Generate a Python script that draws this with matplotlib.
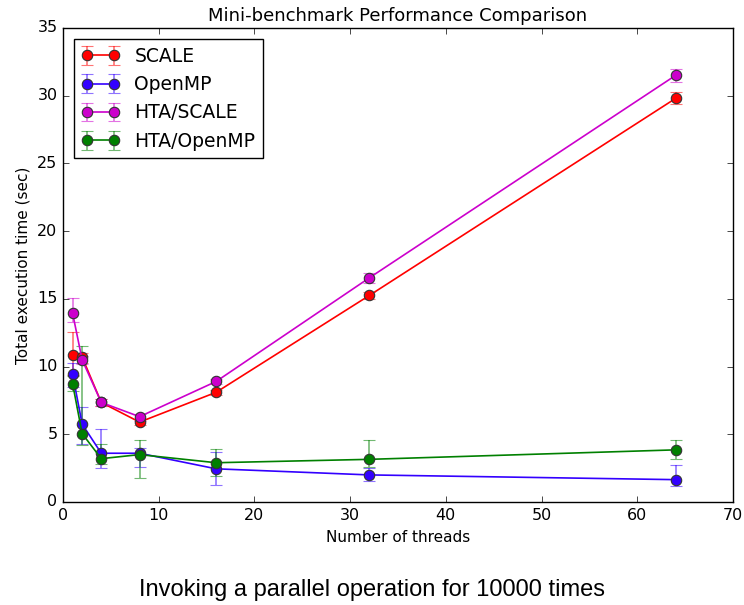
import matplotlib

matplotlib.use("Agg")
import matplotlib.pyplot as plt
import numpy as np
from matplotlib.colors import to_rgba

# thread counts shared by all series
threads = [1, 2, 4, 8, 16, 32, 64]

series_names = ["SCALE", "OpenMP", "HTA/SCALE", "HTA/OpenMP"]

scale_mean = [10.85, 10.7, 7.35, 5.9, 8.1, 15.25, 29.8]
scale_lo = [9.4, 10.3, 7.1, 5.7, 7.9, 15.0, 29.4]
scale_hi = [12.55, 11.0, 7.6, 6.1, 8.3, 15.5, 30.3]

openmp_mean = [9.45, 5.75, 3.6, 3.6, 2.45, 2.0, 1.65]
openmp_lo = [8.5, 4.3, 2.5, 2.6, 1.25, 1.55, 1.2]
openmp_hi = [10.3, 7.0, 5.4, 4.0, 3.7, 2.5, 2.7]

hta_scale_mean = [13.95, 10.5, 7.35, 6.3, 8.9, 16.55, 31.5]
hta_scale_lo = [13.3, 10.2, 7.1, 6.0, 8.7, 16.2, 31.0]
hta_scale_hi = [15.1, 10.8, 7.6, 6.5, 9.1, 16.9, 32.0]

hta_openmp_mean = [8.75, 5.05, 3.2, 3.5, 2.9, 3.15, 3.85]
hta_openmp_lo = [8.2, 4.2, 2.8, 1.8, 1.9, 2.6, 3.15]
hta_openmp_hi = [9.3, 11.5, 4.3, 4.6, 3.9, 4.6, 4.6]

colors = ["#ff0000", "#3300ff", "#cc00cc", "#008000"]

plt.style.use("classic")
plt.rcParams["font.family"] = ["DejaVu Sans"]

fig = plt.figure(figsize=(7.44, 6.05), dpi=100, facecolor="white")
ax = fig.add_axes([63 / 744, 103 / 605, 670 / 744, 474 / 605])

data = [
    (scale_mean, scale_lo, scale_hi),
    (openmp_mean, openmp_lo, openmp_hi),
    (hta_scale_mean, hta_scale_lo, hta_scale_hi),
    (hta_openmp_mean, hta_openmp_lo, hta_openmp_hi),
]
for name, color, (mean, lo, hi) in zip(series_names, colors, data):
    mean = np.array(mean)
    yerr = [mean - np.array(lo), np.array(hi) - mean]
    ax.errorbar(threads, mean, yerr=yerr, color=color, marker="o",
                markersize=7.5, markeredgecolor="#333333", markeredgewidth=0.8,
                ecolor=to_rgba(color, 0.55), elinewidth=1.2, capsize=4,
                linewidth=1.2, label=name)

ax.set_xlim(0, 70)
ax.set_ylim(0, 35)
ax.set_xticks(range(0, 71, 10))
ax.set_yticks(range(0, 36, 5))
ax.tick_params(labelsize=11.5)
ax.set_title("Mini-benchmark Performance Comparison", fontsize=13)
ax.set_xlabel("Number of threads", fontsize=11)
ax.set_ylabel("Total execution time (sec)", fontsize=11)

leg = ax.legend(loc="upper left", numpoints=2, fontsize=13.5, fancybox=False,
                handlelength=2.0, borderaxespad=0.6)
leg.get_frame().set_linewidth(1.0)

fig.text(0.5, 15 / 605, "Invoking a parallel operation for 10000 times",
         ha="center", va="center", fontsize=17, family="Liberation Sans")

fig.savefig("out.png", dpi=100)
